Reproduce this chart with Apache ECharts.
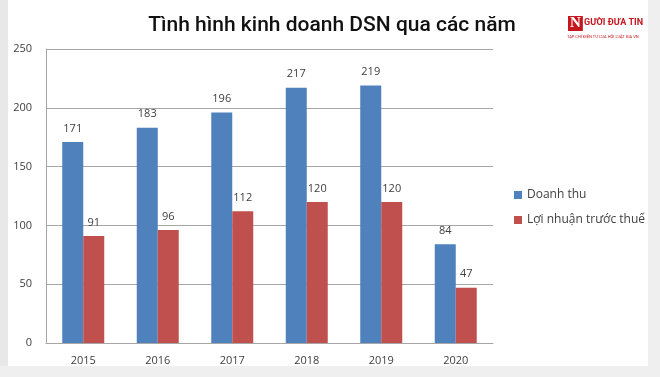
<!DOCTYPE html>
<html>
<head>
<meta charset="utf-8">
<script src="https://cdn.jsdelivr.net/npm/echarts@6/dist/echarts.min.js"></script>
<style>
  html, body { margin: 0; padding: 0; background: #fff; }
  #chart { width: 660px; height: 377px; }
</style>
</head>
<body>
<div id="chart"></div>
<script>
  // dữ liệu
  const years = ['2015', '2016', '2017', '2018', '2019', '2020'];
  const doanhThu = [171, 183, 196, 217, 219, 84];
  const loiNhuan = [91, 96, 112, 120, 120, 47];
  const seriesNames = ['Doanh thu', 'Lợi nhuận trước thuế'];

  const myChart = echarts.init(document.getElementById('chart'));
  const labelStyle = {
    show: true,
    position: 'top',
    distance: 8,
    color: '#404040',
    fontSize: 11,
    fontFamily: 'Open Sans'
  };

  myChart.setOption({
    animation: false,
    title: {
      text: 'Tình hình kinh doanh DSN qua các năm',
      left: 327,
      top: 10,
      textAlign: 'center',
      textStyle: {
        fontFamily: 'Roboto',
        fontWeight: 500,
        fontSize: 21,
        color: '#111'
      }
    },
    legend: {
      orient: 'vertical',
      left: 509,
      top: 184,
      itemWidth: 8,
      itemHeight: 8,
      itemGap: 13,
      icon: 'rect',
      textStyle: { color: '#404040', fontSize: 12, fontFamily: 'Open Sans' },
      data: seriesNames
    },
    grid: {
      left: 46,
      right: 167,
      top: 49,
      bottom: 34
    },
    xAxis: {
      type: 'category',
      data: years,
      axisTick: { show: false },
      axisLine: { lineStyle: { color: '#a6a6a6' } },
      axisLabel: { color: '#404040', fontSize: 11, fontFamily: 'Open Sans', margin: 12 }
    },
    yAxis: {
      type: 'value',
      min: 0,
      max: 250,
      interval: 50,
      axisLine: { show: true, lineStyle: { color: '#a6a6a6' } },
      axisTick: { show: false },
      axisLabel: { color: '#404040', fontSize: 11, fontFamily: 'Open Sans', margin: 14 },
      splitLine: { lineStyle: { color: '#a6a6a6' } }
    },
    series: [
      {
        name: seriesNames[0],
        type: 'bar',
        data: doanhThu,
        barWidth: 21,
        barGap: 0,
        itemStyle: { color: '#4f81bd' },
        label: labelStyle
      },
      {
        name: seriesNames[1],
        type: 'bar',
        data: loiNhuan,
        barWidth: 21,
        itemStyle: { color: '#c0504d' },
        label: labelStyle
      }
    ],
    graphic: [
      // khung ảnh chụp
      { type: 'rect', left: 0, top: 0, shape: { width: 8, height: 377 }, style: { fill: '#e8e8e8' } },
      { type: 'rect', left: 648, top: 0, shape: { width: 12, height: 377 }, style: { fill: '#efefef' } },
      { type: 'rect', left: 0, top: 366, shape: { width: 660, height: 11 }, style: { fill: '#efefef' } },
      { type: 'text', left: 568, top: 16, style: { text: 'N', fill: '#fff', backgroundColor: '#c4161c', font: 'bold 15px Liberation Serif', padding: [0, 2] } },
      { type: 'text', left: 584, top: 18, style: { text: 'GƯỜI ĐƯA TIN', fill: '#c4161c', font: 'bold 9px Roboto' } },
      { type: 'text', left: 567, top: 35, style: { text: 'TẠP CHÍ ĐIỆN TỬ CỦA HỘI LUẬT GIA VN', fill: '#c4161c', font: '4px Roboto' } }
    ]
  });

  window.addEventListener('resize', () => {
    myChart && myChart.resize();
  });
</script>
</body>
</html>
